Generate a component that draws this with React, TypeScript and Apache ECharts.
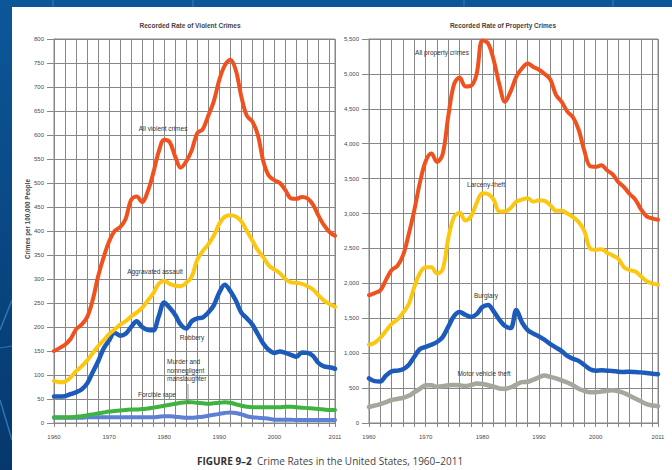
import React, { useEffect, useRef } from "react";
import * as echarts from "echarts";

// ---------- data ----------
const years: number[] = Array.from({ length: 52 }, (_, i) => 1960 + i);

const violentAll = [
  150, 156, 163, 175, 195, 205, 220, 255, 305, 345,
  378, 400, 408, 425, 465, 472, 460, 482, 520, 565,
  590, 585, 555, 532, 545, 568, 604, 612, 640, 670,
  715, 745, 757, 735, 680, 640, 628, 600, 545, 515,
  506, 500, 485, 468, 467, 471, 468, 455, 432, 412,
  398, 390,
];
const aggravated = [
  88, 85, 86, 95, 108, 118, 130, 145, 160, 172,
  185, 195, 205, 212, 222, 230, 240, 255, 270, 290,
  296, 290, 286, 285, 292, 305, 340, 358, 372, 390,
  415, 430, 433, 430, 420, 400, 380, 360, 345, 328,
  320, 312, 300, 293, 292, 290, 285, 278, 266, 255,
  248, 242,
];
const robbery = [
  55, 55, 56, 60, 64, 70, 82, 105, 128, 155,
  172, 188, 182, 186, 200, 212, 200, 194, 193, 222,
  251, 240, 225, 205, 197, 212, 218, 220, 230, 245,
  272, 288, 275, 255, 230, 218, 205, 185, 165, 152,
  146, 149, 146, 142, 138, 147, 146, 140, 125, 118,
  116, 113,
];
const rape = [
  12, 12, 12, 12, 13, 14, 16, 18, 20, 22,
  24, 25, 26, 27, 28, 28, 29, 30, 32, 34,
  36, 38, 40, 42, 43, 43, 42, 41, 40, 41,
  42, 43, 42, 39, 36, 34, 33, 33, 33, 33,
  33, 33, 34, 34, 33, 32, 31, 30, 29, 28,
  27, 27,
];
const murder = [
  11, 11, 11, 11, 11, 11, 12, 12, 12, 12,
  12, 12, 12, 12, 12, 12, 12, 12, 12, 13,
  14, 14, 13, 12, 11, 11, 12, 13, 15, 17,
  19, 21, 22, 21, 18, 14, 12, 11, 10, 9,
  7, 7, 7, 7, 6, 6, 6, 6, 6, 6,
  6, 6,
];
const propertyAll = [
  1830, 1860, 1900, 2050, 2190, 2250, 2400, 2700, 3050, 3450,
  3750, 3860, 3740, 3850, 4400, 4850, 4950, 4820, 4830, 5000,
  5480, 5440, 5200, 4850, 4600, 4750, 4960, 5080, 5150, 5100,
  5060, 5000, 4920, 4700, 4600, 4460, 4380, 4200, 3900, 3680,
  3670, 3690, 3620, 3560, 3450, 3380, 3280, 3200, 3060, 2960,
  2930, 2910,
];
const larceny = [
  1120, 1150, 1220, 1320, 1420, 1480, 1580, 1700, 1950, 2150,
  2230, 2230, 2140, 2200, 2650, 2950, 3010, 2900, 2960, 3150,
  3290, 3280, 3200, 3030, 3030, 3080, 3170, 3200, 3220, 3170,
  3190, 3180, 3120, 3040, 3040, 3000, 2950, 2880, 2750, 2500,
  2480, 2490, 2440, 2400, 2350, 2230, 2190, 2170, 2100, 2030,
  2000, 1980,
];
const burglary = [
  640, 600, 595, 680, 740, 750, 770, 830, 950, 1060,
  1090, 1120, 1160, 1230, 1380, 1530, 1590, 1550, 1520, 1560,
  1660, 1690, 1600, 1480, 1390, 1360, 1620, 1440, 1330, 1280,
  1240, 1190, 1130, 1080, 1030, 960, 920, 890, 830, 770,
  750, 755, 750, 745, 735, 730, 735, 730, 725, 715,
  705, 700,
];
const motorVehicle = [
  230, 250, 270, 300, 330, 345, 360, 390, 440, 490,
  540, 540, 520, 525, 540, 545, 540, 530, 545, 565,
  560, 540, 520, 495, 490, 510, 550, 585, 590, 620,
  655, 680, 660, 640, 610, 580, 540, 490, 460, 440,
  440, 450, 460, 470, 455, 430, 390, 350, 310, 270,
  250, 240,
];

const xLabelYears = [1960, 1970, 1980, 1990, 2000, 2011];
const violentTicks = { min: 0, max: 800, interval: 50 };
const propertyTicks = { min: 0, max: 5500, interval: 500 };

const leftTitle = "Recorded Rate of Violent Crimes";
const rightTitle = "Recorded Rate of Property Crimes";
const yName = "Crimes per 100,000 People";

// ---------- helpers ----------
const pair = (vals: number[]) => vals.map((v, i) => [years[i], v]);
const FONT = "'Liberation Sans', Arial, sans-serif";
const GRID_LINE = "#878787";

function xAxis(gridIndex: number) {
  return {
    type: "value",
    gridIndex,
    min: 1960,
    max: 2011,
    interval: 2,
    axisLine: { show: true, lineStyle: { color: GRID_LINE, width: 1 } },
    axisTick: { show: true, length: 4, lineStyle: { color: GRID_LINE } },
    splitLine: { show: true, lineStyle: { color: GRID_LINE, width: 1 } },
    axisLabel: {
      customValues: xLabelYears,
      fontSize: 6,
      color: "#4a4a4a",
      fontFamily: FONT,
      margin: 11,
      formatter: (v: number) => String(v),
    },
  };
}

function yAxis(gridIndex: number, t: { min: number; max: number; interval: number }, comma: boolean) {
  return {
    type: "value",
    gridIndex,
    min: t.min,
    max: t.max,
    interval: t.interval,
    axisLine: { show: true, lineStyle: { color: GRID_LINE, width: 1 } },
    axisTick: { show: true, length: 7, lineStyle: { color: GRID_LINE } },
    splitLine: { show: true, lineStyle: { color: GRID_LINE, width: 1 } },
    axisLabel: {
      fontSize: 6,
      color: "#4a4a4a",
      fontFamily: FONT,
      margin: 10,
      formatter: (v: number) => (comma ? v.toLocaleString("en-US") : String(v)),
    },
  };
}

function line(name: string, data: number[], color: string, idx: number, width = 4, z = 3) {
  return {
    name,
    type: "line",
    xAxisIndex: idx,
    yAxisIndex: idx,
    data: pair(data),
    smooth: 0.35,
    symbol: "none",
    z,
    lineStyle: { color, width, cap: "round", join: "round" },
  };
}

function label(text: string, x: number, y: number, align = "center", size = 6.5) {
  return {
    type: "text",
    x,
    y,
    z: 100,
    style: {
      text,
      fill: "#333",
      font: `${size}px ${FONT}`,
      align,
      verticalAlign: "middle",
      lineHeight: 8.5,
    },
  };
}

export default function App() {
  const ref = useRef<HTMLDivElement>(null);

  useEffect(() => {
    if (!ref.current) return;
    const chart = echarts.init(ref.current, undefined, { renderer: "svg" });
    chart.setOption({
      animation: false,
      backgroundColor: "#0b4f8e",
      grid: [
        { left: 54, top: 39, width: 281, height: 384, show: true, borderColor: GRID_LINE, borderWidth: 1, backgroundColor: "#fff" },
        { left: 369, top: 39, width: 289, height: 384, show: true, borderColor: GRID_LINE, borderWidth: 1, backgroundColor: "#fff" },
      ],
      xAxis: [xAxis(0), xAxis(1)],
      yAxis: [yAxis(0, violentTicks, false), yAxis(1, propertyTicks, true)],
      series: [
        line("Murder and nonnegligent manslaughter", murder, "#5d7fd4", 0, 4),
        line("Forcible rape", rape, "#3db43f", 0, 4),
        line("Robbery", robbery, "#1d5bbb", 0, 4.5),
        line("Aggravated assault", aggravated, "#fcc710", 0, 4),
        line("All violent crimes", violentAll, "#f0521f", 0, 4),
        line("Motor vehicle theft", motorVehicle, "#a3a79c", 1, 4.5),
        line("Burglary", burglary, "#1d5bbb", 1, 4.5),
        line("Larceny-theft", larceny, "#fcc710", 1, 4),
        line("All property crimes", propertyAll, "#f0521f", 1, 4),
      ],
      graphic: [
        // background decorations
        {
          type: "rect",
          z: -10,
          shape: { x: 0, y: 0, width: 672, height: 470 },
          style: {
            fill: new echarts.graphic.LinearGradient(0, 0, 0, 1, [
              { offset: 0, color: "#0c5799" },
              { offset: 1, color: "#06386d" },
            ]),
          },
        },
        { type: "line", z: -9, shape: { x1: 0, y1: 330, x2: 12, y2: 300 }, style: { stroke: "#2d74b8", lineWidth: 1.5 } },
        { type: "line", z: -9, shape: { x1: 0, y1: 400, x2: 12, y2: 440 }, style: { stroke: "#2d74b8", lineWidth: 1.5 } },
        { type: "line", z: -9, shape: { x1: 0, y1: 348, x2: 12, y2: 346 }, style: { stroke: "#2d74b8", lineWidth: 1 } },
        { type: "line", z: -9, shape: { x1: 53, y1: 0, x2: 53, y2: 7 }, style: { stroke: "#1e68ad", lineWidth: 2 } },
        { type: "line", z: -9, shape: { x1: 193, y1: 0, x2: 193, y2: 7 }, style: { stroke: "#1e68ad", lineWidth: 2 } },
        { type: "line", z: -9, shape: { x1: 464, y1: 0, x2: 464, y2: 7 }, style: { stroke: "#1e68ad", lineWidth: 2 } },
        { type: "line", z: -9, shape: { x1: 613, y1: 0, x2: 613, y2: 7 }, style: { stroke: "#1e68ad", lineWidth: 2 } },
        { type: "rect", z: -5, shape: { x: 12, y: 7, width: 660, height: 463 }, style: { fill: "#ffffff" } },
        // titles
        {
          type: "text", x: 190, y: 25, z: 100,
          style: { text: leftTitle, fill: "#444", font: `bold 6.5px ${FONT}`, align: "center", verticalAlign: "middle" },
        },
        {
          type: "text", x: 503, y: 25, z: 100,
          style: { text: rightTitle, fill: "#444", font: `bold 6.5px ${FONT}`, align: "center", verticalAlign: "middle" },
        },
        {
          type: "text", x: 27, y: 219, rotation: Math.PI / 2, z: 100,
          style: { text: yName, fill: "#444", font: `bold 6.3px ${FONT}`, align: "center", verticalAlign: "middle" },
        },
        // series annotations
        label("All violent crimes", 163, 128),
        label("Aggravated assault", 155, 271),
        label("Robbery", 192, 337),
        label("Murder and\nnonnegligent\nmanslaughter", 167, 370, "left"),
        { type: "line", z: 100, shape: { x1: 188, y1: 384, x2: 188, y2: 404 }, style: { stroke: "#666", lineWidth: 0.7 } },
        label("Forcible rape", 157, 394),
        label("All property crimes", 442, 52),
        label("Larceny-theft", 486, 184),
        label("Burglary", 486, 295),
        label("Motor vehicle theft", 484, 373),
        // caption
        {
          type: "text", x: 197, y: 461, z: 100,
          style: {
            text: "{b|FIGURE 9–2}  Crime Rates in the United States, 1960–2011",
            fill: "#444",
            font: `10px 'Open Sans', sans-serif`,
            verticalAlign: "middle",
            rich: {
              b: { fontWeight: "bold", fill: "#333", fontSize: 10, fontFamily: "'Open Sans', sans-serif" },
            },
          },
        },
      ],
    });
    return () => chart.dispose();
  }, []);

  return (
    <div
      ref={ref}
      style={{ position: "fixed", left: 0, top: 0, width: 672, height: 470 }}
    />
  );
}
